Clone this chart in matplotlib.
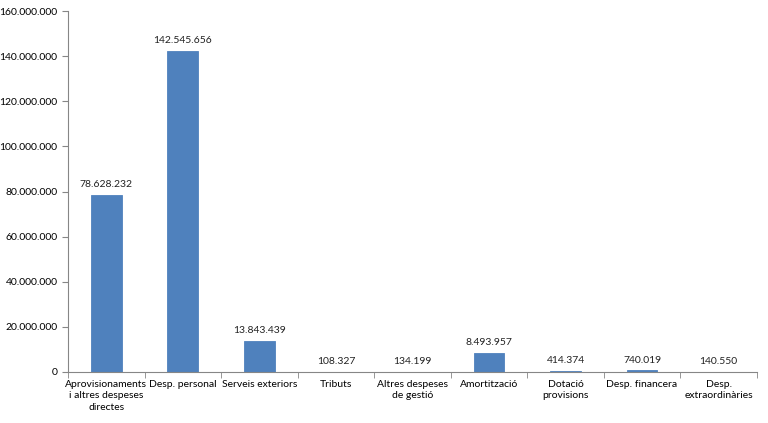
import numpy as np
import matplotlib.pyplot as plt
from matplotlib.ticker import FuncFormatter, FixedLocator

categories = ["Aprovisionaments\ni altres despeses\ndirectes", "Desp. personal", "Serveis exteriors",
              "Tributs", "Altres despeses\nde gestió", "Amortització", "Dotació\nprovisions",
              "Desp. financera", "Desp.\nextraordinàries"]
values = [78628232, 142545656, 13843439, 108327, 134199, 8493957, 414374, 740019, 140550]

def dots(v, pos=None):
    return f"{int(round(v)):,}".replace(",", ".")

plt.rcParams['font.family'] = ['Lato', 'DejaVu Sans']
fig = plt.figure(figsize=(7.68, 4.23), dpi=100)
ax = fig.add_axes([0.0885, 0.1206, 0.897, 0.853])

x = np.arange(len(categories))
ax.bar(x, values, width=0.4, color="#4F81BD", edgecolor="#4F81BD", linewidth=0.6)
for xi, v in zip(x, values):
    ax.text(xi, v + 2500000, dots(v), ha="center", va="bottom", fontsize=7.5, color="#222222")

ax.set_xlim(-0.5, len(categories) - 0.5)
ax.set_ylim(0, 160000000)
ax.set_yticks(np.arange(0, 160000001, 20000000))
ax.yaxis.set_major_formatter(FuncFormatter(dots))
ax.set_xticks(x)
ax.set_xticklabels(categories, fontsize=7.5, linespacing=1.3)
ax.xaxis.set_minor_locator(FixedLocator(np.arange(-0.5, len(categories), 1)))
ax.tick_params(axis="x", which="major", length=0, pad=6)
ax.tick_params(axis="x", which="minor", length=4, color="#868686")
ax.tick_params(axis="y", length=4, color="#868686", labelsize=7.5)

for s in ["top", "right"]:
    ax.spines[s].set_visible(False)
for s in ["left", "bottom"]:
    ax.spines[s].set_color("#868686")

fig.savefig("out.png", dpi=100)
